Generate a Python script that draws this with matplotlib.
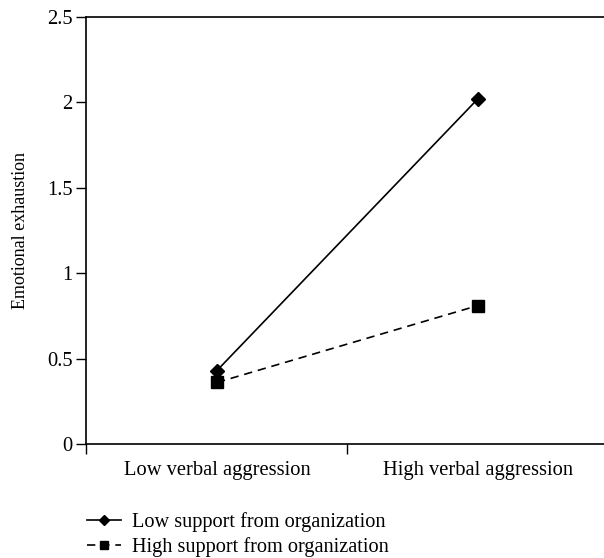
import matplotlib
matplotlib.use('Agg')
import matplotlib.pyplot as plt

plt.rcParams['font.family'] = ['Liberation Serif', 'DejaVu Serif']

categories = ['Low verbal aggression', 'High verbal aggression']
low_support = [0.43, 2.02]
high_support = [0.36, 0.81]
series_names = ['Low support from organization', 'High support from organization']
yticks = [0, 0.5, 1, 1.5, 2, 2.5]
ytick_labels = ['0', '0.5', '1', '1.5', '2', '2.5']

fig = plt.figure(figsize=(6.04, 5.58), dpi=100)
ax = fig.add_axes([0.1432, 0.2043, 0.8642, 0.7658])

xpos = [i + 0.5 for i in range(len(categories))]
ax.plot(xpos, low_support, color='black', lw=1.2, marker='D', ms=7,
        label=series_names[0])
ax.plot(xpos, high_support, color='black', lw=1.2, ls=(0, (5, 3.5)),
        marker='s', ms=8.5, label=series_names[1])

ax.set_xlim(0, len(categories))
ax.set_ylim(0, 2.5)
ax.set_xticks([0, 1, 2])
ax.set_xticklabels([])
ax.set_xticks(xpos, minor=True)
ax.set_xticklabels(categories, minor=True, fontsize=14.8)
ax.tick_params(axis='x', which='minor', length=0, pad=12)
ax.tick_params(axis='x', which='major', length=7, width=1, direction='out')
ax.set_yticks(yticks)
ax.set_yticklabels(ytick_labels, fontsize=14.8)
ax.tick_params(axis='y', length=7, width=1, direction='out', pad=3)
ax.spines['right'].set_visible(False)
for s in ['left', 'bottom', 'top']:
    ax.spines[s].set_linewidth(1.2)
ax.set_ylabel('Emotional exhaustion', fontsize=13, labelpad=13)

fig.legend(loc='upper left', bbox_to_anchor=(0.131, 0.096), frameon=False,
           fontsize=14.6, handlelength=1.65, handletextpad=0.55,
           labelspacing=0.22, borderaxespad=0, markerscale=0.75)

fig.savefig('out.png', dpi=100)
